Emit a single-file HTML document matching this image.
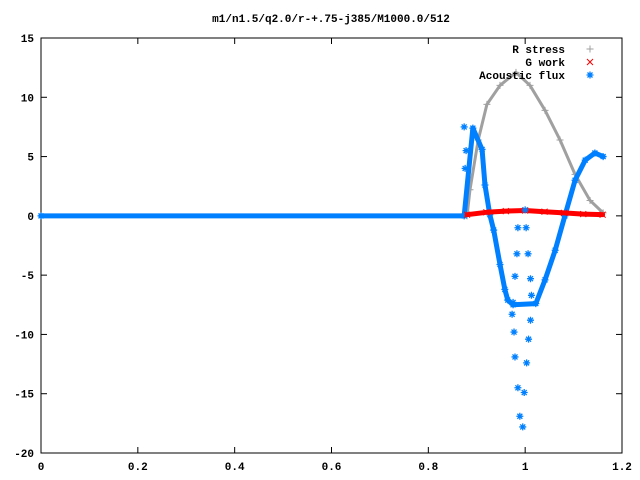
<!DOCTYPE html>
<html><head><meta charset="utf-8"><style>
body{margin:0;background:#fff}
svg{display:block}
text{font-family:"Liberation Mono",monospace;font-size:11px;font-weight:bold;fill:#000}
</style></head><body>
<svg id="chart" width="640" height="480" xmlns="http://www.w3.org/2000/svg">
<rect width="640" height="480" fill="#fff"/>
<text x="331" y="22" text-anchor="middle">m1/n1.5/q2.0/r-+.75-j385/M1000.0/512</text>
<g id="axes"></g>
<g id="plot"></g>
<g id="legend">
<text x="565" y="53" text-anchor="end">R stress</text>
<text x="565" y="66" text-anchor="end">G work</text>
<text x="565" y="79" text-anchor="end">Acoustic flux</text>
</g>
</svg>
<script>
const xTicks=[0,0.2,0.4,0.6,0.8,1,1.2];
const xTickLabels=["0","0.2","0.4","0.6","0.8","1","1.2"];
const yTicks=[-20,-15,-10,-5,0,5,10,15];
const yTickLabels=["-20","-15","-10","-5","0","5","10","15"];
const rX=[0.88,0.886,0.903,0.921,0.948,0.981,1.010,1.041,1.072,1.103,1.134,1.161];
const rY=[0,2.2,6.4,9.4,11.0,12.1,11.0,8.9,6.4,3.5,1.3,0.25];
const gX=[0.88,0.92,0.96,1.0,1.04,1.08,1.12,1.16];
const gY=[0.1,0.3,0.4,0.45,0.35,0.25,0.15,0.1];
const fX=[0,0.874,0.892,0.911,0.917,0.927,0.935,0.948,0.958,0.964,0.975,1.022,1.041,1.062,1.082,1.103,1.124,1.144,1.161];
const fY=[0,0,7.4,5.6,2.6,0.1,-1.2,-4.1,-6.2,-7.1,-7.5,-7.4,-5.4,-2.9,0,3.0,4.7,5.3,5.0];
const sX=[0.874,0.876,0.878,0.985,0.983,0.979,0.975,0.973,0.977,0.979,0.985,0.989,0.995,1.0,1.002,1.006,1.011,1.013,1.011,1.007,1.003,0.998];
const sY=[7.5,4.0,5.5,-1,-3.2,-5.1,-7.3,-8.3,-9.8,-11.9,-14.5,-16.9,-17.8,0.5,-1,-3.2,-5.3,-6.7,-8.8,-10.4,-12.4,-14.9];
const L=41,R=622,T=38,B=453,xmin=0,xmax=1.2,ymin=-20,ymax=15;
const sx=v=>L+(v-xmin)/(xmax-xmin)*(R-L);
const sy=v=>B-(v-ymin)/(ymax-ymin)*(B-T);
const NS="http://www.w3.org/2000/svg";
function mk(t,a,p){const e=document.createElementNS(NS,t);for(const k in a)e.setAttribute(k,a[k]);p.appendChild(e);return e;}
const ax=document.getElementById('axes'),pl=document.getElementById('plot'),lg=document.getElementById('legend');
const frame=mk('rect',{x:L,y:T,width:R-L,height:B-T,fill:'none',stroke:'#000','stroke-width':1},ax);


xTicks.forEach((v,i)=>{const x=sx(v);
 mk('line',{x1:x,y1:B,x2:x,y2:B-6,stroke:'#000'},ax);mk('line',{x1:x,y1:T,x2:x,y2:T+6,stroke:'#000'},ax);
 const t=mk('text',{x:x,y:470,'text-anchor':'middle'},ax);t.textContent=xTickLabels[i];
 
 });
yTicks.forEach((v,i)=>{const y=sy(v);
 mk('line',{x1:L,y1:y,x2:L+6,y2:y,stroke:'#000'},ax);mk('line',{x1:R,y1:y,x2:R-6,y2:y,stroke:'#000'},ax);
 const t=mk('text',{x:34,y:y+4,'text-anchor':'end'},ax);t.textContent=yTickLabels[i];
 
 });
function plus(x,y,c,g){mk('path',{d:`M${x-3.5},${y}h7M${x},${y-3.5}v7`,stroke:c,'stroke-width':1,fill:'none'},g);}
function cross(x,y,c,g){mk('path',{d:`M${x-3},${y-3}l6,6M${x-3},${y+3}l6,-6`,stroke:c,'stroke-width':1,fill:'none'},g);}
function star(x,y,c,g){mk('path',{d:`M${x-3.5},${y}h7M${x},${y-3.5}v7M${x-2.5},${y-2.5}l5,5M${x-2.5},${y+2.5}l5,-5`,stroke:c,'stroke-width':1.3,fill:'none'},g);}
function series(xs,ys,c,w,fn,name){
 const g=mk('g',{},pl);
 
 
 mk('polyline',{points:xs.map((v,i)=>sx(v)+','+sy(ys[i])).join(' '),fill:'none',stroke:c,'stroke-width':w,'stroke-linejoin':'round','stroke-linecap':'round'},g);
 xs.forEach((v,i)=>fn(sx(v),sy(ys[i]),c,g));return g;}
series(rX,rY,'#a0a0a0',3,plus,'r-stress-series');
series(fX,fY,'#0080ff',5,star,'acoustic-flux-series');
series(gX,gY,'#ff0000',5,cross,'g-work-series');
const sg=mk('g',{},pl);


sX.forEach((v,i)=>star(sx(v),sy(sY[i]),'#0080ff',sg));
plus(590,49,'#a0a0a0',lg);cross(590,62,'#ff0000',lg);star(590,75,'#0080ff',lg);
</script>
</body></html>
